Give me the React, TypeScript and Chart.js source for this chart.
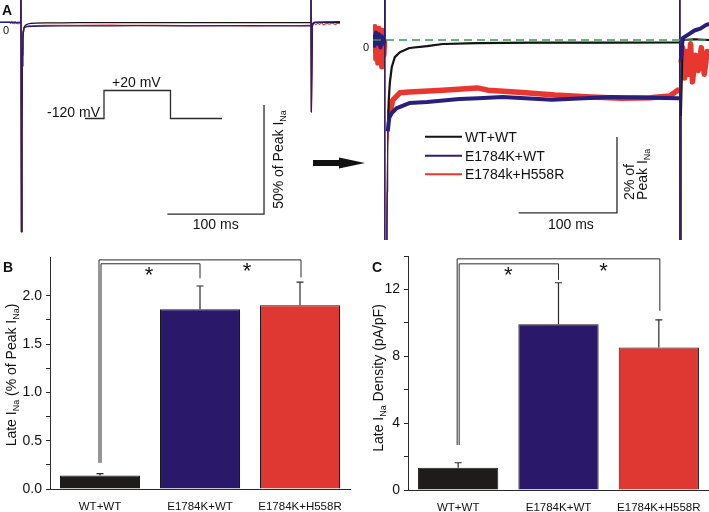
import React, { useEffect, useRef } from "react";
import { Chart, registerables } from "chart.js";

Chart.register(...registerables);

const FONT = "'Liberation Sans', Arial, Helvetica, sans-serif";

// ---------- Panel A: current traces (t = ms from pulse onset, I = % of peak I_Na)
const wtTime = [-22, -12, -6, -0.3, 0, 0.4, 1.0, 1.5, 2.0, 2.5, 3.0, 4.0, 5.1, 7.1, 10.2, 15.3, 25, 43, 59, 94, 150, 220, 299.6, 300, 300.4, 301.2, 303, 315, 330];
const wtCurrent = [0, 0.02, -0.03, 0, 12, -96, -50, -20, -8, -4, -2.4, -1.6, -1.13, -0.71, -0.45, -0.32, -0.21, -0.16, -0.105, -0.08, -0.07, -0.07, -0.065, 12, -41, -2, 0, 0.02, 0];

const e1784kTime = [-22, -12, -10.5, -9, -7.5, -6, -4.5, -3, -1.5, -0.3, 0, 0.5, 1.0, 1.5, 2.0, 3.0, 4.5, 7.1, 12.2, 25, 43, 76, 95, 120, 170, 230, 298, 299.6, 300, 300.4, 301.5, 303, 309, 315, 321, 327, 330];
const e1784kCurrent = [0, 0.1, -0.15, 0.2, -0.1, 0.15, -0.2, 0.1, -0.1, 0, 12, -96, -45, -15, -5, -2.4, -2.05, -1.92, -1.79, -1.66, -1.63, -1.55, -1.53, -1.5, -1.57, -1.5, -1.53, -1.53, 12, -41, -0.5, 0.05, 0.15, 0.25, 0.3, 0.4, 0.42];

const h558rTime = [-22, -12, -11, -10, -9, -8, -7, -6, -5, -4, -3, -2, -1, -0.3, 0, 0.5, 1.0, 1.5, 2.0, 3.0, 5.1, 8.1, 15.3, 25, 59, 94, 105, 140, 173, 210, 241, 270, 290, 298, 299.6, 300, 300.4, 301.5, 303, 305, 307, 309, 311, 313, 316, 319, 322, 325, 328, 330];
const h558rCurrent = [0, 0.2, -0.3, 0.35, -0.5, 0.1, -0.6, 0.3, -0.45, 0.15, -0.7, 0.25, -0.4, 0, 12, -96, -40, -12, -4.5, -2.8, -1.92, -1.58, -1.39, -1.37, -1.32, -1.26, -1.32, -1.38, -1.45, -1.5, -1.53, -1.52, -1.47, -1.32, -1.3, 12, -41, -0.6, -0.2, -1.0, -0.3, -0.9, -0.1, -1.1, -0.4, -0.8, -0.2, -0.9, -0.3, -0.5];

const baselineTime = [-12, 330];
const baselineCurrent = [0, 0];

const traceLabels = ["WT+WT", "E1784K+WT", "E1784k+H558R"];

// ---------- Panels B and C
const groups = ["WT+WT", "E1784K+WT", "E1784K+H558R"];
const lateFraction = [0.14, 1.86, 1.9];
const lateFractionSem = [0.02, 0.24, 0.24];
const lateDensity = [1.33, 9.92, 8.52];
const lateDensitySem = [0.3, 2.48, 1.66];

// ---------- styling
const INK = "#2a2a2a";
const BLACK = "#151313";
const NAVY = "#2a1e7c";
const RED = "#e8372f";
const GREEN = "#2f9e50";
const BAR_COLORS = ["#1e1b1b", "#2a196b", "#df3731"];

const f = (size: number, bold = false) => `${bold ? "bold " : ""}${size}px ${FONT}`;
const toPoints = (t: number[], v: number[]) => t.map((x, i) => ({ x, y: v[i] }));
// the noisy "band" part of a trace: transients (large excursions) left out
const toBand = (t: number[], v: number[]) => t.map((x, i) => ({ x, y: Math.abs(v[i]) > 2.5 ? null : v[i] }));

type Part = { t: string; sub?: boolean };

function drawRich(ctx: any, parts: Part[], x: number, y: number, size: number, align: "left" | "center" | "right", angle = 0) {
  ctx.save();
  ctx.translate(x, y);
  ctx.rotate(angle);
  ctx.textBaseline = "alphabetic";
  ctx.textAlign = "left";
  let w = 0;
  for (const p of parts) {
    ctx.font = f(p.sub ? size * 0.64 : size);
    w += ctx.measureText(p.t).width;
  }
  let cx = align === "center" ? -w / 2 : align === "right" ? -w : 0;
  for (const p of parts) {
    ctx.font = f(p.sub ? size * 0.64 : size);
    ctx.fillText(p.t, cx, p.sub ? size * 0.24 : 0);
    cx += ctx.measureText(p.t).width;
  }
  ctx.restore();
}

function text(ctx: any, s: string, x: number, y: number, size: number, align: "left" | "center" | "right" = "left") {
  drawRich(ctx, [{ t: s }], x, y, size, align);
}

function traceDatasets(band: [number, number, number] | null) {
  const defs = [
    { label: traceLabels[1], t: e1784kTime, v: e1784kCurrent, color: NAVY },
    { label: traceLabels[0], t: wtTime, v: wtCurrent, color: BLACK },
    { label: traceLabels[2], t: h558rTime, v: h558rCurrent, color: RED },
  ];
  const out: any[] = [];
  defs.forEach((d, i) => {
    const common = { label: d.label, borderColor: d.color, pointRadius: 0, tension: 0, fill: false, borderJoinStyle: "round" };
    out.push({ ...common, data: toPoints(d.t, d.v), borderWidth: band ? 1 : 1.2 });
    if (band) out.push({ ...common, data: toBand(d.t, d.v), borderWidth: band[i], spanGaps: false });
  });
  return out;
}

function traceOptions(xmin: number, xmax: number, ymin: number, ymax: number, padding: any) {
  return {
    responsive: false,
    animation: false,
    events: [],
    layout: { padding },
    plugins: { legend: { display: false }, tooltip: { enabled: false } },
    scales: {
      x: { type: "linear", min: xmin, max: xmax, display: false },
      y: { type: "linear", min: ymin, max: ymax, display: false },
    },
  };
}

const leftDecor = {
  id: "leftDecor",
  afterDraw(chart: any) {
    const { ctx } = chart;
    const x = chart.scales.x;
    const y = chart.scales.y;
    ctx.save();
    ctx.strokeStyle = INK;
    ctx.fillStyle = "#111";
    ctx.lineWidth = 1.3;
    // voltage protocol cartoon
    ctx.beginPath();
    ctx.moveTo(85, 118.5);
    ctx.lineTo(104, 118.5);
    ctx.lineTo(104, 90.5);
    ctx.lineTo(170.5, 90.5);
    ctx.lineTo(170.5, 118.5);
    ctx.lineTo(222, 118.5);
    ctx.stroke();
    text(ctx, "-120 mV", 100, 117, 14, "right");
    text(ctx, "+20 mV", 112, 87, 14, "left");
    // scale bar: 100 ms x 50 % of peak
    const x1 = x.getPixelForValue(251.4);
    const x0 = x.getPixelForValue(251.4 - 100);
    const y0 = y.getPixelForValue(-87.9);
    const y1 = y.getPixelForValue(-87.9 + 50);
    ctx.beginPath();
    ctx.moveTo(x0, y0);
    ctx.lineTo(x1, y0);
    ctx.lineTo(x1, y1);
    ctx.stroke();
    text(ctx, "100 ms", (x0 + x1) / 2, y0 + 15, 14, "center");
    drawRich(ctx, [{ t: "50% of Peak I" }, { t: "Na", sub: true }], x1 + 19, (y0 + y1) / 2, 14, "center", -Math.PI / 2);
    // zero level
    text(ctx, "0", 3, 33.5, 11, "left");
    // panel letter
    ctx.font = f(14, true);
    ctx.textAlign = "left";
    ctx.textBaseline = "alphabetic";
    ctx.fillText("A", 2, 15);
    // arrow
    ctx.fillRect(313, 160, 28, 6);
    ctx.beginPath();
    ctx.moveTo(339, 157.5);
    ctx.lineTo(365, 163);
    ctx.lineTo(339, 168.5);
    ctx.closePath();
    ctx.fill();
    ctx.restore();
  },
};

const rightDecor = {
  id: "rightDecor",
  afterDraw(chart: any) {
    const { ctx } = chart;
    const x = chart.scales.x;
    const y = chart.scales.y;
    ctx.save();
    ctx.fillStyle = "#111";
    text(ctx, "0", 3, 51, 11, "left");
    // legend
    const colors = [BLACK, NAVY, RED];
    const ys = [136.7, 155.7, 174.3];
    traceLabels.forEach((lab, i) => {
      ctx.strokeStyle = colors[i];
      ctx.lineWidth = 2;
      ctx.beginPath();
      ctx.moveTo(65, ys[i]);
      ctx.lineTo(102, ys[i]);
      ctx.stroke();
      text(ctx, lab, 105, ys[i] + 5, 14, "left");
    });
    // scale bar: 100 ms x 2 % of peak
    ctx.strokeStyle = INK;
    ctx.lineWidth = 1.3;
    const x1 = x.getPixelForValue(236.2);
    const x0 = x.getPixelForValue(236.2 - 100);
    const y0 = y.getPixelForValue(-4.55);
    const y1 = y.getPixelForValue(-4.55 + 2);
    ctx.beginPath();
    ctx.moveTo(x0, y0);
    ctx.lineTo(x1, y0);
    ctx.lineTo(x1, y1);
    ctx.stroke();
    text(ctx, "100 ms", (x0 + x1) / 2 + 3, y0 + 16, 14, "center");
    drawRich(ctx, [{ t: "2% of" }], x1 + 17, y0 - 13, 14, "left", -Math.PI / 2);
    drawRich(ctx, [{ t: "Peak I" }, { t: "Na", sub: true }], x1 + 30, y0 - 13, 14, "left", -Math.PI / 2);
    ctx.restore();
  },
};

type Bracket = { from: number; to: number; dx: number; base: number; top: number; end: number };
type Star = { from: number; to: number; frac: number; value: number };

function barDecor(o: {
  values: number[];
  sem: number[];
  brackets: Bracket[];
  stars: Star[];
  title: Part[];
  titleX: number;
  titleY: number;
  letter: string;
  letterX: number;
}) {
  return {
    id: "barDecor",
    afterDraw(chart: any) {
      const { ctx } = chart;
      const y = chart.scales.y;
      const bars = chart.getDatasetMeta(0).data;
      ctx.save();
      ctx.strokeStyle = INK;
      ctx.lineWidth = 1.2;
      // error bars (upward, + SEM)
      o.values.forEach((v, i) => {
        const bx = bars[i].x;
        const yTop = y.getPixelForValue(v + o.sem[i]);
        const yBar = y.getPixelForValue(v);
        ctx.beginPath();
        ctx.moveTo(bx, yBar);
        ctx.lineTo(bx, yTop);
        ctx.moveTo(bx - 3.5, yTop);
        ctx.lineTo(bx + 3.5, yTop);
        ctx.stroke();
      });
      // significance brackets
      ctx.lineWidth = 1;
      o.brackets.forEach((b) => {
        const xl = bars[b.from].x + b.dx;
        const xr = bars[b.to].x + (b.dx < 0 ? 1 : 0);
        ctx.beginPath();
        ctx.moveTo(xl, y.getPixelForValue(b.base));
        ctx.lineTo(xl, y.getPixelForValue(b.top));
        ctx.lineTo(xr, y.getPixelForValue(b.top));
        ctx.lineTo(xr, y.getPixelForValue(b.end));
        ctx.stroke();
      });
      // asterisks
      ctx.fillStyle = "#111";
      ctx.font = f(22);
      ctx.textAlign = "center";
      ctx.textBaseline = "alphabetic";
      const m = ctx.measureText("*");
      o.stars.forEach((s) => {
        const sx = bars[s.from].x + (bars[s.to].x - bars[s.from].x) * s.frac;
        const sy = y.getPixelForValue(s.value);
        ctx.fillText("*", sx, sy + (m.actualBoundingBoxAscent - m.actualBoundingBoxDescent) / 2);
      });
      // axis title
      drawRich(ctx, o.title, o.titleX, o.titleY, 14, "center", -Math.PI / 2);
      // panel letter
      ctx.font = f(14, true);
      ctx.textAlign = "left";
      ctx.fillText(o.letter, o.letterX, 22);
      ctx.restore();
    },
  };
}

function barConfig(values: number[], max: number, step: number, labelEvery: number, digits: number, yWidth: number, xHeight: number, padding: any, decor: any) {
  return {
    type: "bar",
    data: {
      labels: groups,
      datasets: [
        {
          data: values,
          backgroundColor: BAR_COLORS,
          borderColor: "#1a1a1a",
          borderWidth: 1,
          barPercentage: 0.8,
          categoryPercentage: 1,
        },
      ],
    },
    options: {
      responsive: false,
      animation: false,
      events: [],
      layout: { padding },
      plugins: { legend: { display: false }, tooltip: { enabled: false } },
      scales: {
        x: {
          grid: { display: false, drawTicks: false },
          border: { display: true, color: INK, width: 1 },
          ticks: { font: { family: FONT, size: 11.5 }, color: "#111", padding: 11, maxRotation: 0, autoSkip: false },
          afterFit: (s: any) => {
            s.height = xHeight;
            s.paddingLeft = 0;
            s.paddingRight = 0;
          },
        },
        y: {
          min: 0,
          max,
          grid: { display: true, drawOnChartArea: false, drawTicks: true, tickLength: 4, color: INK, lineWidth: 1 },
          border: { display: true, color: INK, width: 1 },
          ticks: {
            stepSize: step,
            font: { family: FONT, size: 14 },
            color: "#111",
            padding: 4,
            callback: (v: number) => {
              const k = v / labelEvery;
              return Math.abs(k - Math.round(k)) < 1e-6 ? v.toFixed(digits) : "";
            },
          },
          afterBuildTicks: (s: any) => {
            s.ticks = s.ticks.filter((t: any) => {
              const k = t.value / step;
              return Math.abs(k - Math.round(k)) < 1e-6;
            });
          },
          afterFit: (s: any) => {
            s.width = yWidth;
            s.paddingTop = 0;
            s.paddingBottom = 0;
          },
        },
      },
    },
    plugins: [decor],
  };
}

export default function App() {
  const aLeft = useRef<HTMLCanvasElement>(null);
  const aRight = useRef<HTMLCanvasElement>(null);
  const bRef = useRef<HTMLCanvasElement>(null);
  const cRef = useRef<HTMLCanvasElement>(null);

  useEffect(() => {
    document.body.style.margin = "0";
    const charts: any[] = [];

    charts.push(
      new Chart(aLeft.current as any, {
        type: "line",
        data: { datasets: traceDatasets(null) as any },
        options: traceOptions(-21.7, 330, -99.8, 10.3, { left: 0, right: 30, top: 0, bottom: 0 }) as any,
        plugins: [leftDecor],
      } as any)
    );

    charts.push(
      new Chart(aRight.current as any, {
        type: "line",
        data: {
          datasets: [
            {
              label: "0",
              data: toPoints(baselineTime, baselineCurrent),
              borderColor: GREEN,
              borderWidth: 1.6,
              borderDash: [8, 5],
              pointRadius: 0,
            },
            ...traceDatasets([4, 2.2, 5.5]),
          ] as any,
        },
        options: traceOptions(-12, 329.8, -5.263, 1.053, { left: 13, right: 0, top: 0, bottom: 0 }) as any,
        plugins: [rightDecor],
      } as any)
    );

    charts.push(
      new Chart(
        bRef.current as any,
        barConfig(lateFraction, 2.4, 0.25, 0.5, 1, 50, 23, { top: 7, right: 5, left: 0, bottom: 0 },
          barDecor({
            values: lateFraction,
            sem: lateFractionSem,
            brackets: [
              { from: 0, to: 2, dx: -1, base: 0.27, top: 2.37, end: 2.19 },
              { from: 0, to: 1, dx: 1, base: 0.27, top: 2.33, end: 2.18 },
            ],
            stars: [
              { from: 0, to: 1, frac: 0.49, value: 2.255 },
              { from: 1, to: 2, frac: 0.47, value: 2.296 },
            ],
            title: [{ t: "Late I" }, { t: "Na", sub: true }, { t: " (% of Peak I" }, { t: "Na", sub: true }, { t: ")" }],
            titleX: 16,
            titleY: 125,
            letter: "B",
            letterX: 3,
          })) as any
      )
    );

    charts.push(
      new Chart(
        cRef.current as any,
        barConfig(lateDensity, 14, 2, 4, 0, 53, 22, { top: 6, right: 0, left: 0, bottom: 0 },
          barDecor({
            values: lateDensity,
            sem: lateDensitySem,
            brackets: [
              { from: 0, to: 2, dx: -1, base: 2.69, top: 13.83, end: 10.72 },
              { from: 0, to: 1, dx: 1, base: 2.69, top: 13.53, end: 12.57 },
            ],
            stars: [
              { from: 0, to: 1, frac: 0.5, value: 13.11 },
              { from: 1, to: 2, frac: 0.45, value: 13.35 },
            ],
            title: [{ t: "Late I" }, { t: "Na", sub: true }, { t: " Density (pA/pF)" }],
            titleX: 28,
            titleY: 128,
            letter: "C",
            letterX: 17,
          })) as any
      )
    );

    return () => charts.forEach((c) => c.destroy());
  }, []);

  const abs = (l: number, t: number, w: number, h: number) => ({ position: "absolute" as const, left: l, top: t, width: w, height: h });

  return (
    <div style={{ position: "absolute", left: 0, top: 0, width: 709, height: 512, background: "#fff", overflow: "hidden" }}>
      <canvas ref={aLeft} width={370} height={240} style={abs(0, 0, 370, 240)} />
      <canvas ref={aRight} width={349} height={240} style={abs(360, 0, 349, 240)} />
      <canvas ref={bRef} width={355} height={262} style={abs(0, 250, 355, 262)} />
      <canvas ref={cRef} width={354} height={262} style={abs(355, 250, 354, 262)} />
    </div>
  );
}
